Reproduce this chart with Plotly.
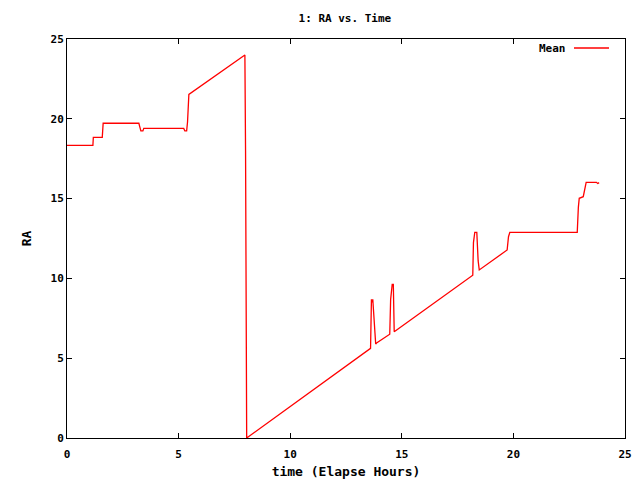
import plotly.graph_objects as go

# Elapsed hours and mean RA values
time_hours = [0.00, 1.16, 1.18, 1.58, 1.62, 3.22, 3.27, 3.31, 3.40, 3.44,
              5.23, 5.28, 5.36, 5.40, 5.46, 7.97, 8.00, 8.02, 8.05,
              13.60, 13.64, 13.66, 13.70, 13.74, 13.83, 13.87,
              14.39, 14.46, 14.50, 14.57, 14.62, 14.66,
              18.18, 18.21, 18.27, 18.36, 18.42, 18.47,
              19.72, 19.78, 19.84, 22.86, 22.91, 22.95, 23.13, 23.20, 23.26,
              23.72, 23.78, 23.84]
ra_mean = [18.34, 18.34, 18.84, 18.84, 19.72, 19.72, 19.45, 19.24, 19.24, 19.40,
           19.40, 19.24, 19.24, 19.80, 21.53, 24.00, 18.00, 6.00, 0.00,
           5.62, 8.69, 8.50, 8.69, 7.91, 5.89, 5.95,
           6.45, 6.50, 8.69, 9.63, 9.63, 6.66,
           10.20, 12.24, 12.89, 12.89, 11.11, 10.53,
           11.78, 12.61, 12.89, 12.89, 14.45, 15.02, 15.12, 15.64, 16.02,
           16.02, 15.95, 16.00]

series_name = "Mean"
title_text = "1: RA vs. Time"
x_title = "time (Elapse Hours)"
y_title = "RA"
x_ticks = [0, 5, 10, 15, 20, 25]
y_ticks = [0, 5, 10, 15, 20, 25]

FONT = dict(family="DejaVu Sans Mono", size=11, color="black")

fig = go.Figure()
fig.add_trace(go.Scatter(x=time_hours, y=ra_mean, mode="lines", name=series_name,
                         line=dict(color="#ff0000", width=1.3), showlegend=False))

axis_common = dict(showline=True, linecolor="black", linewidth=1, mirror="ticks",
                   ticks="inside", ticklen=5, tickcolor="black", tickwidth=1,
                   showgrid=False, zeroline=False, automargin=False,
                   tickfont=dict(family="DejaVu Sans Mono", size=11, color="black"))

fig.update_layout(
    width=640, height=480,
    margin=dict(l=67, r=15, t=39, b=42, autoexpand=False),
    paper_bgcolor="white", plot_bgcolor="white",
    font=FONT,
    title=dict(text="<b>" + title_text + "</b>", xref="paper", x=0.498, xanchor="center",
               yref="container", y=1 - 18 / 480, yanchor="middle",
               font=dict(family="DejaVu Sans Mono", size=11)),
    xaxis=dict(range=[0, 25], tickvals=x_ticks,
               ticktext=["<b>%d</b>" % v for v in x_ticks], ticklabelstandoff=6,
               title=dict(text="<b>" + x_title + "</b>", standoff=6), **axis_common),
    yaxis=dict(range=[0, 25], tickvals=y_ticks,
               ticktext=["<b>%d</b>" % v for v in y_ticks],
               title=dict(text="<b>" + y_title + "</b>", standoff=15), **axis_common),
)

# gnuplot-style key: label then line sample at top right
fig.add_annotation(xref="paper", yref="paper", x=(568 - 67) / 558, y=(438 - 48) / 399,
                   text="<b>" + series_name + "</b>", showarrow=False, xanchor="right",
                   yanchor="middle", font=FONT)
fig.add_shape(type="line", xref="paper", yref="paper",
              x0=(574 - 67) / 558, x1=(609 - 67) / 558,
              y0=(438 - 48) / 399, y1=(438 - 48) / 399,
              line=dict(color="#ff0000", width=1.3))

fig.write_html("out.html", config={"displayModeBar": False},
               post_script="document.body.style.margin='0';document.body.style.overflow='hidden';")
